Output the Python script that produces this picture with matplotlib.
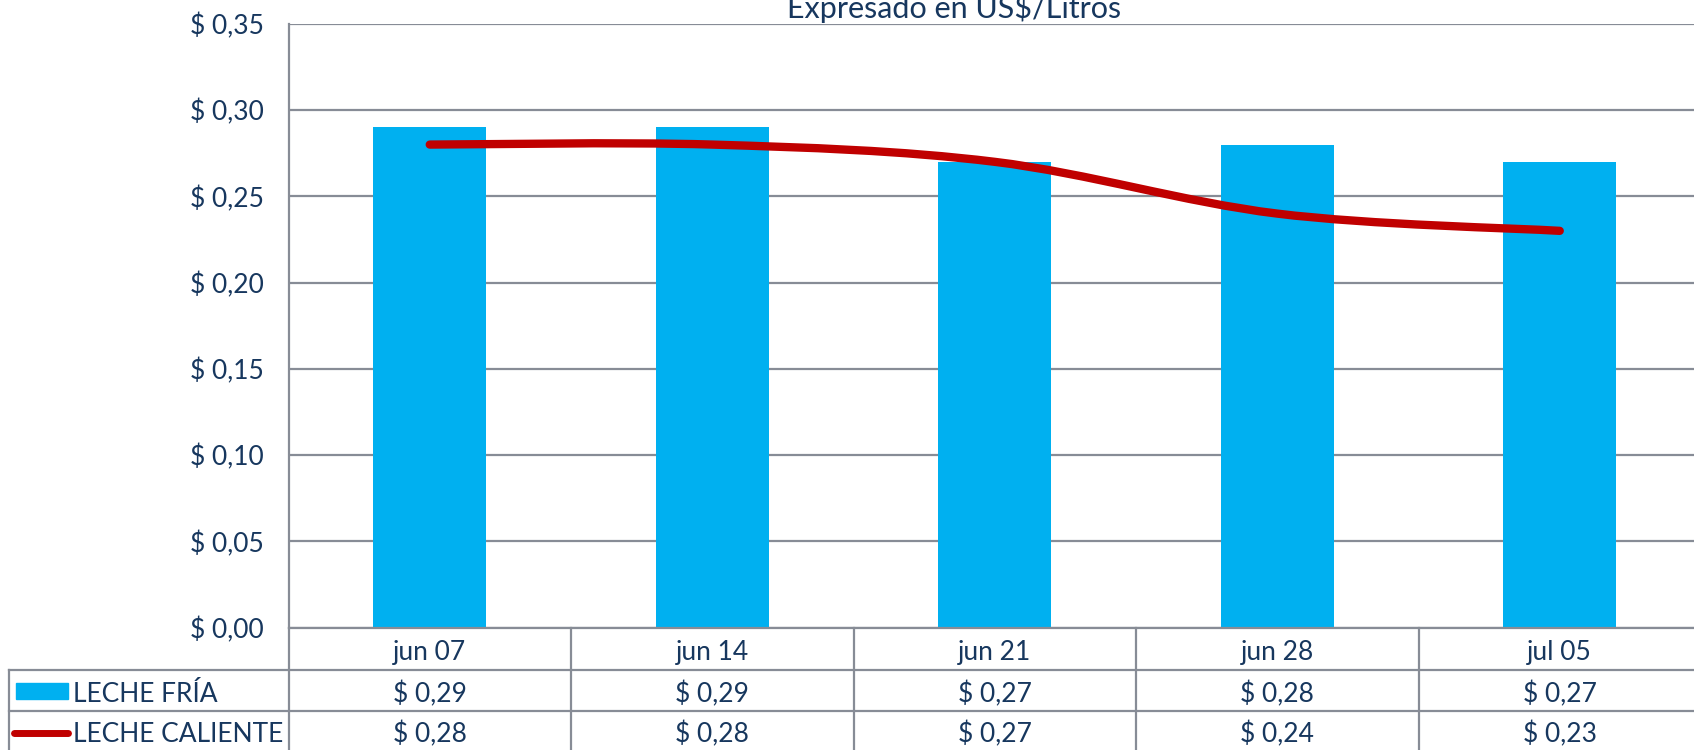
import numpy as np
import matplotlib
matplotlib.use("Agg")
import matplotlib.pyplot as plt
from matplotlib.path import Path
from matplotlib.patches import PathPatch, Rectangle
from matplotlib.lines import Line2D
import matplotlib.transforms as mtransforms

categories = ["jun 07", "jun 14", "jun 21", "jun 28", "jul 05"]
leche_fria = [0.29, 0.29, 0.27, 0.28, 0.27]
leche_caliente = [0.28, 0.28, 0.27, 0.24, 0.23]
series_names = ["LECHE FRÍA", "LECHE CALIENTE"]
title = "Expresado en US$/Litros"
yticks = [0.0, 0.05, 0.10, 0.15, 0.20, 0.25, 0.30, 0.35]

BLUE = "#00B0F0"
RED = "#C00000"
GRID = "#878C96"
TXT = "#17375E"
FS = 19

plt.rcParams["font.family"] = ["Lato", "DejaVu Sans"]

W, H = 1694, 750
fig = plt.figure(figsize=(W / 100, H / 100), dpi=100)

ax_left, ax_right = 288.5, 1701.0
ax_top, ax_bot = 23.8, 627.7
ax = fig.add_axes([ax_left / W, 1 - ax_bot / H, (ax_right - ax_left) / W, (ax_bot - ax_top) / H])

x = np.arange(len(categories))
ax.bar(x, leche_fria, width=0.4, color=BLUE, zorder=2)

# Smoothed line (Excel-style cardinal spline drawn as cubic Bezier)
pts = np.column_stack([x, leche_caliente]).astype(float)
verts = [tuple(pts[0])]
codes = [Path.MOVETO]
n = len(pts)
for i in range(n - 1):
    p0 = pts[i - 1] if i > 0 else pts[i]
    p1 = pts[i]
    p2 = pts[i + 1]
    p3 = pts[i + 2] if i + 2 < n else pts[i + 1]
    c1 = p1 + (p2 - p0) / 6.0
    c2 = p2 - (p3 - p1) / 6.0
    verts += [tuple(c1), tuple(c2), tuple(p2)]
    codes += [Path.CURVE4] * 3
path = Path(verts, codes)
ax.add_patch(PathPatch(path, facecolor="none", edgecolor=RED, lw=6, capstyle="round", joinstyle="round", zorder=3))

ax.set_xlim(-0.5, len(categories) - 0.5)
ax.set_ylim(0, 0.35)
ax.set_yticks(yticks)
ax.set_yticklabels(["$ " + f"{v:.2f}".replace(".", ",") for v in yticks])
ax.tick_params(axis="y", length=0, pad=18, labelsize=FS, labelcolor=TXT)
ax.set_xticks([])
ax.grid(axis="y", color=GRID, lw=1.6, zorder=0)
ax.set_axisbelow(True)
for s in ["top", "right"]:
    ax.spines[s].set_visible(False)
for s in ["left", "bottom"]:
    ax.spines[s].set_color(GRID)
    ax.spines[s].set_linewidth(1.6)

# Title (partly cut at top, as in the source chart)
fig.text(954 / W, 1 - 18 / H, title, ha="center", va="baseline", fontsize=22, color=TXT)

# Data table
bt = mtransforms.blended_transform_factory(ax.transData, fig.transFigure)
row_lines = [669.8, 710.9]
row_centers = [652.5, 694.0, 734.0]
for yy in row_lines:
    fig.add_artist(Line2D([8.6 / W, 1.01], [1 - yy / H, 1 - yy / H], color=GRID, lw=1.6))
# left border of legend cells
fig.add_artist(Line2D([8.6 / W, 8.6 / W], [1 - row_lines[0] / H, 0], color=GRID, lw=1.6))
for b in np.arange(len(categories) + 1) - 0.5:
    ax.add_line(Line2D([b, b], [1 - ax_bot / H, 0], transform=bt, color=GRID, lw=1.6, clip_on=False))

for i, c in enumerate(categories):
    ax.text(i, 1 - row_centers[0] / H, c, transform=bt, ha="center", va="center", fontsize=FS, color=TXT)
    ax.text(i, 1 - row_centers[1] / H, "$ " + f"{leche_fria[i]:.2f}".replace(".", ","), transform=bt,
            ha="center", va="center", fontsize=FS, color=TXT)
    ax.text(i, 1 - row_centers[2] / H, "$ " + f"{leche_caliente[i]:.2f}".replace(".", ","), transform=bt,
            ha="center", va="center", fontsize=FS, color=TXT)

# legend keys
fig.add_artist(Rectangle((16 / W, 1 - 699 / H), 52 / W, 16 / H, color=BLUE, transform=fig.transFigure))
fig.add_artist(Line2D([14 / W, 68 / W], [1 - 733 / H, 1 - 733 / H], color=RED, lw=5, solid_capstyle="round"))
fig.text(73 / W, 1 - row_centers[1] / H, series_names[0], ha="left", va="center", fontsize=FS, color=TXT)
fig.text(73 / W, 1 - row_centers[2] / H, series_names[1], ha="left", va="center", fontsize=FS, color=TXT)

fig.savefig("out.png", dpi=100)
